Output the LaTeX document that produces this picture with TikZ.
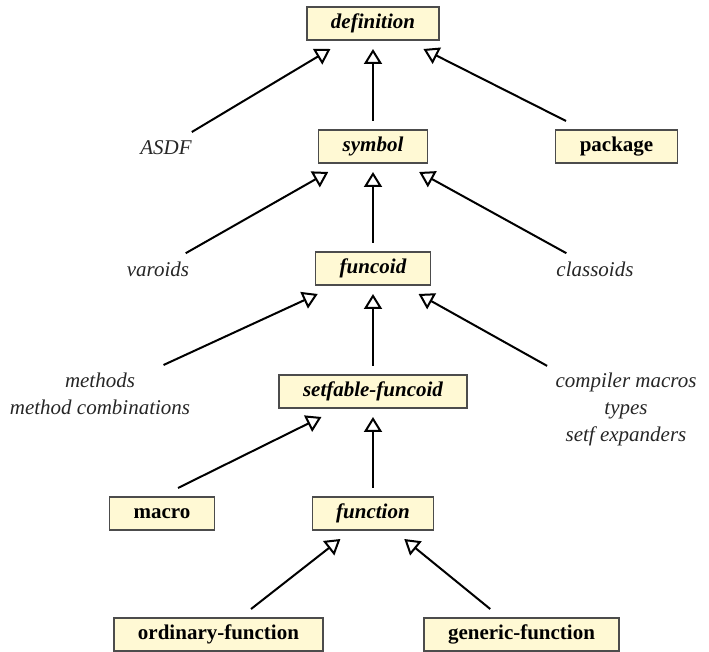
\documentclass[tikz,border=0pt]{standalone}
\usepackage{fontspec}
\setmainfont{Liberation Serif}
\usetikzlibrary{arrows.meta}
\definecolor{clsfill}{RGB}{255,249,212}
\AtBeginDocument{\fontsize{10.5}{13.5}\selectfont}
\tikzset{
  cls/.style={draw=black!70, fill=clsfill, line width=0.6pt, inner xsep=12pt,
              inner ysep=2pt, minimum height=16.5pt, outer xsep=0pt, outer ysep=4.5pt},
  abstract/.style={cls, font=\bfseries\itshape},
  concrete/.style={cls, font=\bfseries},
  note/.style={font=\itshape, text=black!85, inner sep=4pt, align=center},
  isa/.style={-{Triangle[open, length=7.5pt, width=9pt]}, line width=1pt}
}
\begin{document}
\begin{tikzpicture}[x=0.5pt, y=-0.5pt]
    \useasboundingbox (0,0) rectangle (709,652);

    % Node definitions
    \node (definition) at (373, 23.5) [abstract] {definition};
    \node (asdf) at (166, 147.5) [note] {ASDF};
    \node (symbol) at (373, 146.5) [abstract] {symbol};
    \node (package) at (616.5, 146.5) [concrete] {package};
    \node (varoids) at (158, 269) [note] {varoids};
    \node (funcoid) at (373, 268.5) [abstract] {funcoid};
    \node (classoids) at (595, 269) [note] {classoids};
    \node (methods) at (100, 365) [note, anchor=north] {methods\\method combinations};
    \node (setfable) at (373, 391.5) [abstract] {setfable-funcoid};
    \node (compiler) at (626, 365) [note, anchor=north] {compiler macros\\types\\setf expanders};
    \node (macro) at (162, 513.5) [concrete] {macro};
    \node (function) at (373, 513.5) [abstract] {function};
    \node (ordinary) at (218.5, 634.5) [concrete] {ordinary-function};
    \node (generic) at (521.5, 634.5) [concrete] {generic-function};

    % Edge definitions, child to parent
    \draw[isa] (asdf) -- (definition);
    \draw[isa] (symbol) -- (definition);
    \draw[isa] (package) -- (definition);
    \draw[isa] (varoids) -- (symbol);
    \draw[isa] (funcoid) -- (symbol);
    \draw[isa] (classoids) -- (symbol);
    \draw[isa] (methods) -- (funcoid);
    \draw[isa] (setfable) -- (funcoid);
    \draw[isa] (compiler) -- (funcoid);
    \draw[isa] ([xshift=8pt]macro.north) -- (setfable);
    \draw[isa] (function) -- (setfable);
    \draw[isa] (ordinary) -- (function);
    \draw[isa] (generic) -- (function);
\end{tikzpicture}
\end{document}
